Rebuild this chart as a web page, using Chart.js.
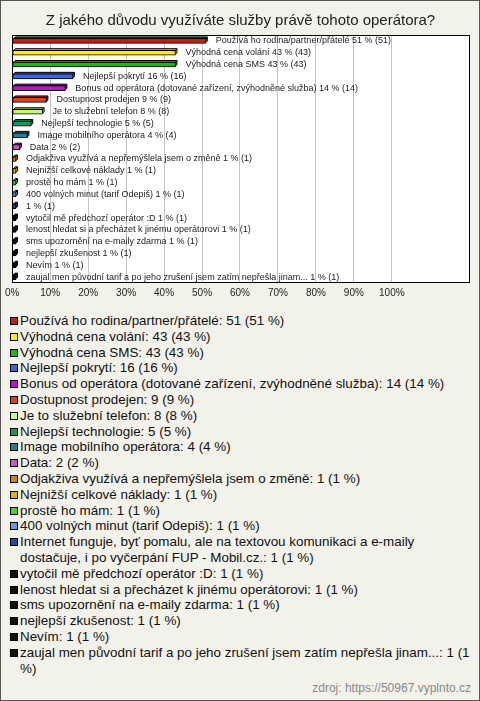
<!DOCTYPE html>
<html>
<head>
<meta charset="utf-8">
<script src="https://cdn.jsdelivr.net/npm/chart.js@4/dist/chart.umd.min.js"></script>
<style>
  body { margin: 0; background: #fff; }
  #frame {
    position: relative;
    width: 480px;
    height: 701px;
    box-sizing: border-box;
    border: 1px solid #555;
    background: #f3f2ea;
    font-family: "Liberation Sans", Arial, sans-serif;
    color: #111;
  }
  #chartBox { position: absolute; left: 0; top: 0; width: 478px; height: 310px; }
  #legend { position: absolute; left: 9px; top: 312px; width: 464px; font-size: 13.4px; line-height: 15.8px; }
  .item { position: relative; padding-left: 10px; }
  .swatch {
    position: absolute; left: 0; top: 4px;
    width: 6px; height: 6px; border: 1px solid #000;
  }
  #source { position: absolute; right: 8px; top: 680px; font-size: 12px; color: #888; }
</style>
</head>
<body>
<div id="frame">
  <div id="chartBox"><canvas id="myChart"></canvas></div>
  <div id="legend"></div>
  <div id="source">zdroj: https://50967.vyplnto.cz</div>
</div>
<script>
const titleText = 'Z jakého důvodu využíváte služby právě tohoto operátora?';

const categories = [
  'Používá ho rodina/partner/přátelé',
  'Výhodná cena volání',
  'Výhodná cena SMS',
  'Nejlepší pokrytí',
  'Bonus od operátora (dotované zařízení, zvýhodněné služba)',
  'Dostupnost prodejen',
  'Je to služební telefon',
  'Nejlepší technologie',
  'Image mobilního operátora',
  'Data',
  'Odjakživa využívá a nepřemýšlela jsem o změně',
  'Nejnižší celkové náklady',
  'prostě ho mám',
  '400 volných minut (tarif Odepiš)',
  'Internet funguje, byť pomalu, ale na textovou komunikaci a e-maily dostačuje, i po vyčerpání FUP - Mobil.cz.',
  'vytočil mě předchozí operátor :D',
  'lenost hledat si a přecházet k jinému operátorovi',
  'sms upozornění na e-maily zdarma',
  'nejlepší zkušenost',
  'Nevím',
  'zaujal men původní tarif a po jeho zrušení jsem zatím nepřešla jinam...'
];

const counts = [51, 43, 43, 16, 14, 9, 8, 5, 4, 2, 1, 1, 1, 1, 1, 1, 1, 1, 1, 1, 1];
const percents = [51, 43, 43, 16, 14, 9, 8, 5, 4, 2, 1, 1, 1, 1, 1, 1, 1, 1, 1, 1, 1];

const colors = [
  '#c41e10', '#ffee00', '#1fb51f', '#4064de', '#c012d0', '#e0421c', '#c8f878',
  '#12995a', '#207e96', '#c458c4', '#e8780c', '#e0b000', '#40d62a', '#6a98e8',
  '#2448b0', '#111111', '#111111', '#111111', '#111111', '#111111', '#111111'
];

const xTicks = [0, 10, 20, 30, 40, 50, 60, 70, 80, 90, 100];

// the long Internet answer has no text next to its bar
const barLabels = categories.slice();
barLabels[14] = '';

const depth = 2;

function shade(hex, f) {
  const n = parseInt(hex.slice(1), 16);
  const r = Math.round(((n >> 16) & 255) * f);
  const g = Math.round(((n >> 8) & 255) * f);
  const b = Math.round((n & 255) * f);
  return 'rgb(' + r + ',' + g + ',' + b + ')';
}

// white plot area with a black frame
const plotBox = {
  id: 'plotBox',
  beforeDraw(chart) {
    const a = chart.chartArea;
    const ctx = chart.ctx;
    ctx.save();
    ctx.fillStyle = '#fff';
    ctx.fillRect(a.left, a.top, a.right - a.left, a.bottom - a.top);
    ctx.restore();
  },
  beforeDatasetsDraw(chart) {
    const a = chart.chartArea;
    const ctx = chart.ctx;
    ctx.save();
    ctx.strokeStyle = '#000';
    ctx.lineWidth = 1;
    ctx.strokeRect(Math.round(a.left) + 0.5, Math.round(a.top) + 0.5,
      Math.round(a.right - a.left) - 1, Math.round(a.bottom - a.top) - 1);
    ctx.restore();
  }
};

// top and side faces so the bars look like boxes
const barDepth = {
  id: 'barDepth',
  beforeDatasetsDraw(chart) {
    const ctx = chart.ctx;
    const meta = chart.getDatasetMeta(0);
    ctx.save();
    ctx.lineWidth = 1;
    ctx.strokeStyle = '#000';
    meta.data.forEach((bar, i) => {
      const p = bar.getProps(['x', 'y', 'base', 'height'], true);
      const left = p.base + 0.5;
      const right = p.x - 0.5;
      const top = p.y - p.height / 2 + 0.5;
      const bottom = p.y + p.height / 2 - 0.5;
      ctx.fillStyle = shade(colors[i], 0.8);
      ctx.beginPath();
      ctx.moveTo(left, top);
      ctx.lineTo(left + depth, top - depth);
      ctx.lineTo(right + depth, top - depth);
      ctx.lineTo(right + depth, bottom - depth);
      ctx.lineTo(right, bottom);
      ctx.lineTo(right, top);
      ctx.closePath();
      ctx.fill();
      ctx.stroke();
      ctx.beginPath();
      ctx.moveTo(right, top);
      ctx.lineTo(right + depth, top - depth);
      ctx.stroke();
    });
    ctx.restore();
  },
  afterDatasetsDraw(chart) {
    const ctx = chart.ctx;
    const meta = chart.getDatasetMeta(0);
    ctx.save();
    ctx.font = '9px "Liberation Sans", Arial, sans-serif';
    ctx.fillStyle = '#222';
    ctx.textBaseline = 'middle';
    meta.data.forEach((bar, i) => {
      const p = bar.getProps(['x', 'y'], true);
      const txt = (barLabels[i] ? barLabels[i] + ' ' : '') + percents[i] + ' % (' + counts[i] + ')';
      ctx.fillText(txt, p.x + depth + 8, p.y);
    });
    ctx.restore();
  }
};

const config = {
  type: 'bar',
  data: {
    labels: categories,
    datasets: [{
      data: percents,
      backgroundColor: colors,
      borderColor: '#000',
      borderWidth: 1,
      borderSkipped: false,
      barThickness: 5
    }]
  },
  options: {
    indexAxis: 'y',
    responsive: false,
    animation: false,
    layout: { padding: { left: 10, right: 9, top: 0, bottom: 8 } },
    plugins: {
      legend: { display: false },
      tooltip: { enabled: false },
      title: {
        display: true,
        text: titleText,
        color: '#222',
        font: { family: '"Liberation Sans", Arial, sans-serif', size: 15, weight: 'normal' },
        padding: { top: 11, bottom: 5 }
      }
    },
    scales: {
      x: {
        min: 0,
        max: 120.6,
        afterBuildTicks(axis) {
          axis.ticks = xTicks.map(v => ({ value: v }));
        },
        ticks: {
          color: '#222',
          padding: 4,
          maxRotation: 0,
          autoSkip: false,
          font: { family: '"Liberation Sans", Arial, sans-serif', size: 10 },
          callback: v => v + '%'
        },
        grid: { color: '#c4c4c4', drawTicks: false },
        border: { display: false }
      },
      y: { display: false }
    }
  },
  plugins: [plotBox, barDepth]
};

const canvas = document.getElementById('myChart');
canvas.width = 478;
canvas.height = 310;
const myChart = new Chart(canvas, config);

// legend list built from the same arrays
const legend = document.getElementById('legend');
categories.forEach((name, i) => {
  const item = document.createElement('div');
  item.className = 'item';
  const sw = document.createElement('span');
  sw.className = 'swatch';
  sw.style.background = colors[i];
  item.appendChild(sw);
  item.appendChild(document.createTextNode(name + ': ' + counts[i] + ' (' + percents[i] + ' %)'));
  legend.appendChild(item);
});
</script>
</body>
</html>
